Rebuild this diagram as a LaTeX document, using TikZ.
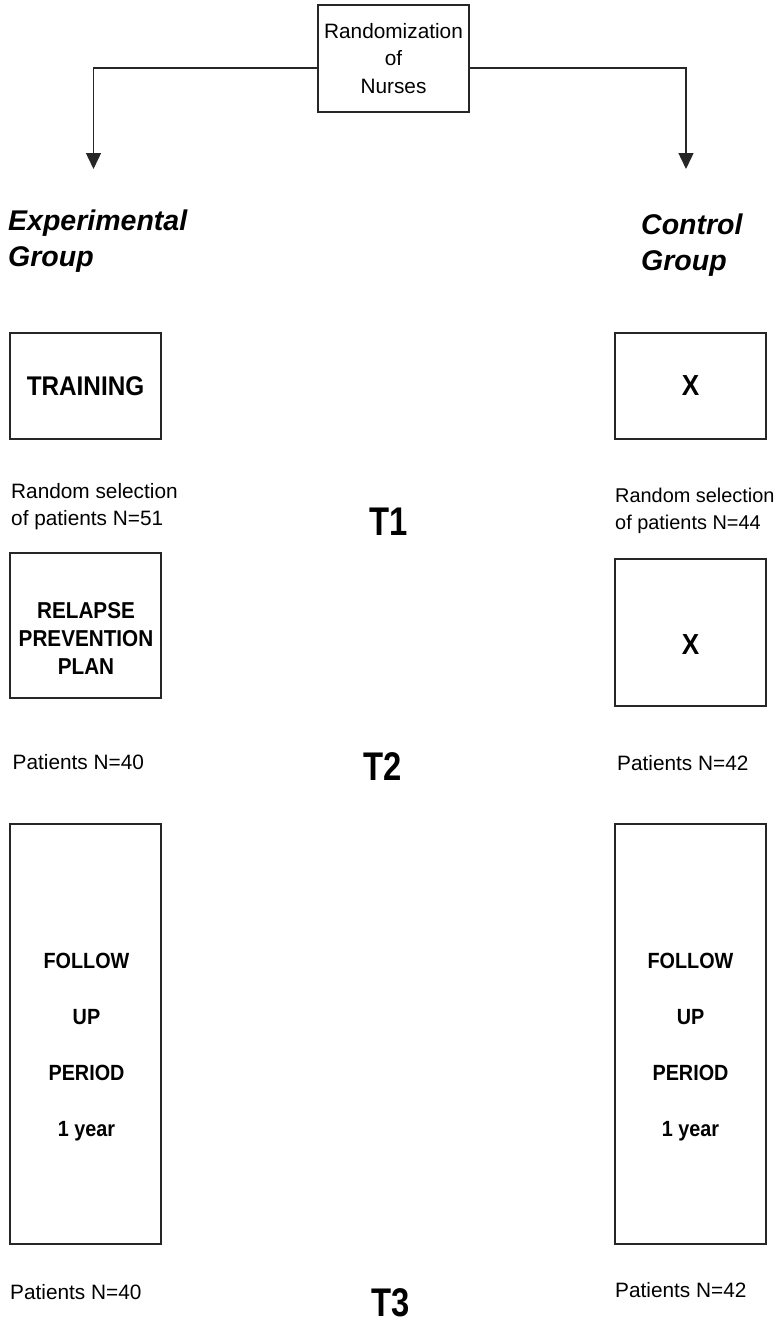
\documentclass[tikz,border=0pt]{standalone}
\usepackage{fontspec}
\setmainfont{Liberation Sans}
\newfontfamily\bcond{Liberation Sans}[FakeStretch=0.9]
\newfontfamily\tcond{Liberation Sans}[FakeStretch=0.82]
\usetikzlibrary{arrows.meta}
\begin{document}
\begin{tikzpicture}[x=1pt,y=-1pt,
  boxshape/.style={draw=black!85,line width=1.6pt,inner sep=0pt,minimum width=151pt},
  reg/.style={inner sep=0pt,font=\fontsize{20.8}{27}\selectfont,align=left,anchor=west},
  grp/.style={inner sep=0pt,font=\fontsize{28.5}{36}\selectfont\bfseries\itshape,align=left,anchor=west},
  tlab/.style={inner sep=0pt,font=\tcond\fontsize{40}{44}\selectfont\bfseries},
  boxtxt/.style={inner sep=0pt,align=center,font=\bcond\fontsize{23}{28}\selectfont\bfseries},
  xtxt/.style={font=\bcond\fontsize{29}{32}\selectfont\bfseries},
  arr/.style={line width=1.4pt,draw=black!85,-{Triangle[width=15pt,length=16pt]}}
]
\path[use as bounding box,clip] (0,0) rectangle (776,1326);

% top box
\node[boxshape,minimum height=107pt,align=center,font=\fontsize{20.8}{27.5}\selectfont] (rand) at (393.5,58.5) {Randomization\\of\\Nurses};
\coordinate (tipL) at (93.5,169);
\coordinate (tipR) at (686,169);
\draw[arr] ([yshift=-9.5pt]rand.west) -| (tipL);
\draw[arr] ([yshift=-9.5pt]rand.east) -| (tipR);

% group labels
\node[grp] (eg) at (8,241) {Experimental\\Group};
\node[grp] (cg) at (641,245) {Control\\Group};

% first row
\node[boxshape,minimum height=106pt,font=\bcond\fontsize{27}{30}\selectfont\bfseries] (train) at (85.5,386) {TRAINING};
\node[boxshape,minimum height=106pt,xtxt] (x1) at (690.5,386) {X};

\node[reg] (rsl) at (11,507) {Random selection\\of patients N=51};
\node[reg,font=\fontsize{19.9}{27}\selectfont] (rsr) at (615,511) {Random selection\\of patients N=44};
\node[tlab] (t1) at (389,522) {T1};

% second row
\node[boxshape,minimum height=145pt] (relapse) at (85.5,625.5) {};
\node[boxtxt] (relapsetxt) at (86,638) {RELAPSE\\PREVENTION\\PLAN};
\node[boxshape,minimum height=147pt] (x2) at (690.5,632.5) {};
\node[inner sep=0pt,xtxt] (x2txt) at (690.5,645) {X};

\node[reg] (p40a) at (12.5,762) {Patients N=40};
\node[tlab] (t2) at (382.5,767) {T2};
\node[reg] (p42a) at (617,763) {Patients N=42};

% follow-up
\node[boxshape,minimum height=420pt] (fl) at (85.5,1034) {};
\node[boxtxt,font=\bcond\fontsize{22}{56}\selectfont\bfseries] (fltxt) at (86.5,1047) {FOLLOW\\UP\\PERIOD\\1 year};
\node[boxshape,minimum height=420pt] (fr) at (690.5,1034) {};
\node[boxtxt,font=\bcond\fontsize{22}{56}\selectfont\bfseries] (frtxt) at (690.5,1047) {FOLLOW\\UP\\PERIOD\\1 year};

\node[reg] (p40b) at (10,1292) {Patients N=40};
\node[tlab] (t3) at (391,1303) {T3};
\node[reg] (p42b) at (615,1290) {Patients N=42};
\end{tikzpicture}
\end{document}
